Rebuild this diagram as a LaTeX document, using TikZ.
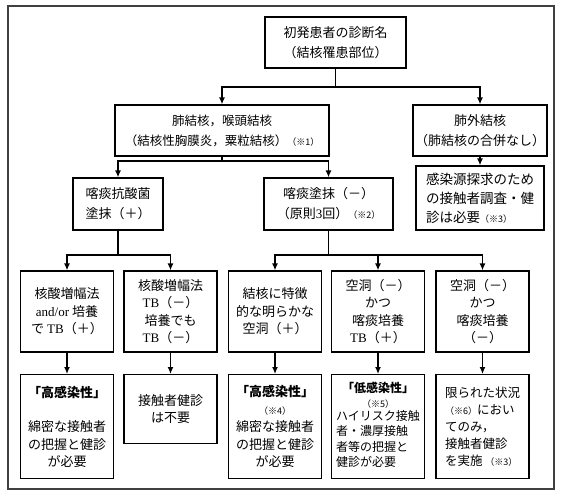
\documentclass[tikz,border=0pt]{standalone}
\usepackage{fontspec}
\setmainfont{Noto Sans CJK JP}
\newfontfamily\lat{Liberation Serif}
\usetikzlibrary{arrows.meta}
\newcommand{\hinweis}[1]{{\fontsize{9}{10}\selectfont #1}}
\newcommand{\tb}{{\lat TB}}

\begin{document}
\begin{tikzpicture}
		[
		x=1pt, y=-1pt, font=\fontsize{13}{17.5}\selectfont, >={Latex[length=7pt,width=6pt]},
		%Stile für Kästen und Pfeile
		kasten/.style={draw, line width=1.3pt, align=center, inner sep=2pt, minimum width=93pt},
		oben/.style={kasten, minimum height=51pt, font=\fontsize{13}{20}\selectfont},
		pfeil/.style={->, line width=1.3pt}
		]
		
		\useasboundingbox (0,0) rectangle (567,496);
		
		%Rahmen
		\draw[line width=1.3pt, black!75] (8,6) rectangle (554,489);
		
		%Erste Ebene
		\node[oben, minimum width=141pt] (start) at (335.5,42.5) {初発患者の診断名\\（結核罹患部位）};
		
		%Zweite Ebene
		\node[oben, minimum width=214pt, font=\fontsize{12.5}{20}\selectfont] (lunge) at (222,130.5)
		{肺結核，喉頭結核\\（結核性胸膜炎，粟粒結核）\hinweis{（※1）}};
		\node[oben, minimum width=129pt] (extra) at (480,130.5) {肺外結核\\（肺結核の合併なし）};
		
		%Dritte Ebene
		\node[kasten, minimum width=90pt, minimum height=52pt, font=\fontsize{13}{20}\selectfont] (abstrpos) at (118,204)
		{喀痰抗酸菌\\塗抹（＋）};
		\node[kasten, minimum width=129pt, minimum height=52pt, font=\fontsize{13}{20}\selectfont] (abstrneg) at (328.5,204)
		{喀痰塗抹（－）\\（原則{\lat 3}回）\hinweis{（※2）}};
		\node[kasten, minimum width=128pt, minimum height=64pt, align=left, font=\fontsize{13.5}{19}\selectfont] (quelle) at (480,198)
		{感染源探求のため\\の接触者調査・健\\診は必要\hinweis{（※3）}};
		
		%Vierte Ebene
		\node[kasten, minimum height=81pt] (ra) at (67,311.5) {核酸増幅法\\{\lat and/or} 培養\\で \tb（＋）};
		\node[kasten, minimum height=81pt] (rb) at (170.5,311.5) {核酸増幅法\\\tb（－）\\培養でも\\\tb（－）};
		\node[kasten, minimum height=81pt] (rc) at (275,311.5) {結核に特徴\\的な明らかな\\空洞（＋）};
		\node[kasten, minimum height=81pt] (rd) at (378,311.5) {空洞（－）\\かつ\\喀痰培養\\\tb（＋）};
		\node[kasten, minimum height=81pt] (re) at (482.5,311.5) {空洞（－）\\かつ\\喀痰培養\\（－）};
		
		%Fünfte Ebene
		\node[kasten, anchor=north, minimum height=104pt] (sa) at (67,374)
		{\textbf{「高感染性」}\\[17pt]綿密な接触者\\の把握と健診\\が必要};
		\node[kasten, anchor=north, minimum height=69pt] (sb) at (170.5,374) {接触者健診\\は不要};
		\node[kasten, anchor=north, minimum height=104pt] (sc) at (275,374)
		{\textbf{「高感染性」}\\\hinweis{（※4）}\\綿密な接触者\\の把握と健診\\が必要};
		\node[kasten, anchor=north, minimum height=104pt, font=\fontsize{12}{15.5}\selectfont] (sd) at (378,374)
		{\textbf{「低感染性」}\\\hinweis{（※5）}\\
		\begin{tabular}{@{}l@{}}ハイリスク接触\\者・濃厚接触\\者等の把握と\\健診が必要\end{tabular}};
		\node[kasten, anchor=north, minimum height=104pt, align=left, font=\fontsize{12.5}{17}\selectfont] (se) at (482.5,374)
		{限られた状況\\\hinweis{（※6）}におい\\てのみ，\\接触者健診\\を実施 \hinweis{（※3）}};
		
		%Verzweigungspunkte
		\coordinate (k1) at (335.5,87);
		\coordinate (k2) at (222,161);
		\coordinate (k3) at (118,255);
		\coordinate (k4) at (328.5,255);
		
		%Pfeile
		\draw[pfeil] (start) -- (k1) -| (lunge);
		\draw[pfeil] (k1) -| (extra);
		\draw[pfeil] (extra) -- (quelle);
		\draw[pfeil] (lunge) -- (k2) -| (abstrpos);
		\draw[pfeil] (k2) -| (abstrneg);
		\draw[pfeil] (abstrpos) -- (k3) -| (ra);
		\draw[pfeil] (k3) -| (rb);
		\draw[pfeil] (abstrneg) -- (k4) -| (rc);
		\draw[pfeil] (k4) -| (rd);
		\draw[pfeil] (k4) -| (re);
		\foreach \oben/\unten in {ra/sa, rb/sb, rc/sc, rd/sd, re/se}
		\draw[pfeil] (\oben) -- (\unten);
	\end{tikzpicture}
\end{document}
